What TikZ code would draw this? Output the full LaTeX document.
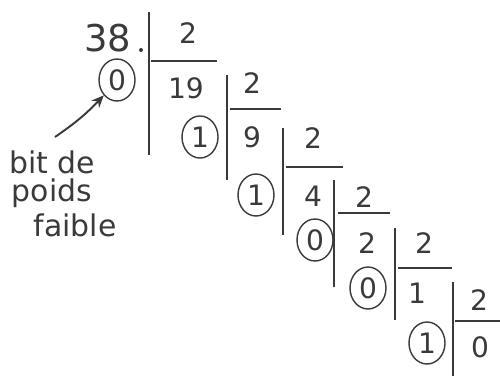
\documentclass[tikz,border=0pt]{standalone}
\usepackage{fontspec}
\setmainfont{DejaVu Sans}
\usetikzlibrary{shapes.geometric,arrows.meta}
\definecolor{ink}{HTML}{3A3A3A}
\tikzset{
  num/.style={text=ink, font=\fontsize{16}{16}\selectfont, inner sep=0pt},
  bignum/.style={text=ink, font=\fontsize{21}{21}\selectfont, inner sep=0pt},
  rem/.style={num, ellipse, draw=ink, line width=0.8pt, minimum width=36*0.02cm, minimum height=42*0.02cm},
  bar/.style={draw=ink, line width=1.1pt},
  lbl/.style={text=ink, font=\fontsize{17}{18}\selectfont, inner sep=0pt}
}
\begin{document}
\begin{tikzpicture}[x=0.02cm,y=-0.02cm]
\useasboundingbox (0,0) rectangle (500,376);
% step 1
\node[bignum] (n38) at (108,38) {38};
\fill[ink] (141,50) circle (2);
\draw[bar] (149,12) -- (149,155);
\draw[bar] (151,61) -- (217,61);
\node[num] (d1) at (188,33) {2};
\node[num] (q1) at (186,88) {19};
\node[rem] (r1) at (117,80) {0};
% step 2
\draw[bar] (227,75) -- (227,180);
\draw[bar] (230,109) -- (281,109);
\node[num] (d2) at (252,83) {2};
\node[num] (q2) at (252,137) {9};
\node[rem] (r2) at (200,137) {1};
% step 3
\draw[bar] (283,128) -- (283,235);
\draw[bar] (286,167) -- (343,167);
\node[num] (d3) at (313,138) {2};
\node[num] (q3) at (313,196) {4};
\node[rem] (r3) at (256,195) {1};
% step 4
\draw[bar] (334,180) -- (334,287);
\draw[bar] (338,213) -- (390,213);
\node[num] (d4) at (364,197) {2};
\node[num] (q4) at (367,243) {2};
\node[rem] (r4) at (315,240) {0};
% step 5
\draw[bar] (395,228) -- (395,320);
\draw[bar] (398,268) -- (452,268);
\node[num] (d5) at (424,243) {2};
\node[num] (q5) at (417,293) {1};
\node[rem] (r5) at (368,288) {0};
% step 6
\draw[bar] (453,282) -- (453,376);
\draw[bar] (455,321) -- (500,321);
\node[num] (d6) at (479,300) {2};
\node[num] (q6) at (480,347) {0};
\node[rem] (r6) at (427,343) {1};
% label
\node[lbl] (t1) at (52,162) {bit de};
\node[lbl] (t2) at (52,193) {poids};
\node[lbl] (t3) at (75,225) {faible};
\coordinate (atail) at (55,137);
\draw[ink, line width=1.1pt, -{Stealth[length=7pt,width=6pt]}] (atail) to[bend right=6] (r1.south west);
\end{tikzpicture}
\end{document}
